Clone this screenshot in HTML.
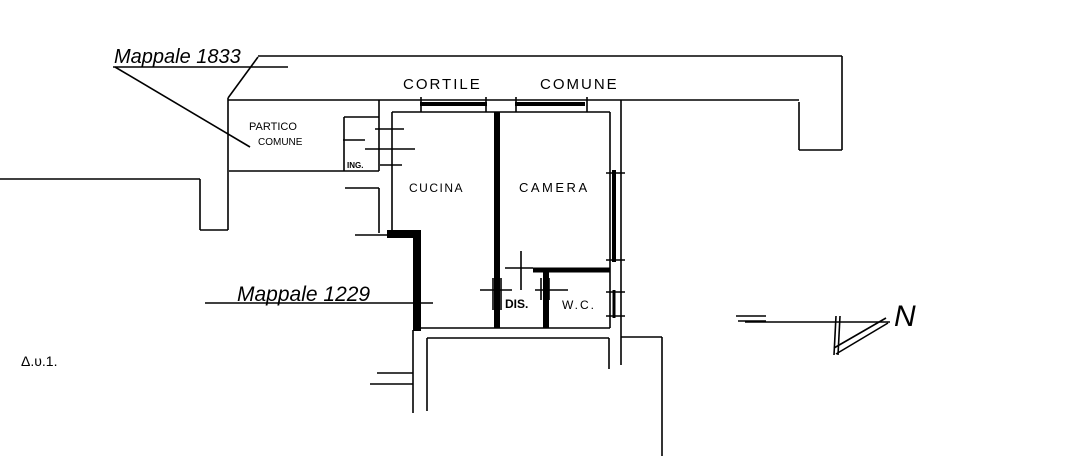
<!DOCTYPE html>
<html><head><meta charset="utf-8"><style>
html,body{margin:0;padding:0;background:#fff;}
svg{display:block}
text{font-family:"Liberation Sans",sans-serif;fill:#000}
</style></head><body>
<svg width="1068" height="456" viewBox="0 0 1068 456" xmlns="http://www.w3.org/2000/svg">
<g stroke="#000" fill="none" stroke-width="1.6">
<!-- Mappale 1833 -->
<line x1="113" y1="67" x2="288" y2="67"/>
<line x1="115" y1="67" x2="250" y2="147"/>
<line x1="258" y1="56" x2="842" y2="56"/>
<line x1="258" y1="57" x2="228" y2="98"/>
<line x1="842" y1="56" x2="842" y2="150"/>
<line x1="799" y1="150" x2="842" y2="150"/>
<line x1="799" y1="102" x2="799" y2="150"/>
<line x1="228" y1="100" x2="799" y2="100"/>
<!-- left -->
<line x1="0" y1="179" x2="200" y2="179"/>
<line x1="200" y1="179" x2="200" y2="230"/>
<line x1="200" y1="230" x2="228" y2="230"/>
<line x1="228" y1="98" x2="228" y2="230"/>
<!-- portico -->
<line x1="229" y1="171" x2="379" y2="171"/>
<line x1="379" y1="100" x2="379" y2="171"/>
<line x1="344" y1="117" x2="379" y2="117"/>
<line x1="344" y1="117" x2="344" y2="171"/>
<line x1="343" y1="140" x2="365" y2="140"/>
<line x1="375" y1="129" x2="404" y2="129"/>
<line x1="365" y1="149" x2="415" y2="149"/>
<line x1="380" y1="165" x2="402" y2="165"/>
<line x1="345" y1="188" x2="379" y2="188"/>
<line x1="379" y1="188" x2="379" y2="233"/>
<line x1="355" y1="235" x2="392" y2="235"/>
<!-- main walls -->
<line x1="392" y1="112" x2="392" y2="233"/>
<line x1="392" y1="112" x2="610" y2="112"/>
<line x1="610" y1="112" x2="610" y2="328"/>
<line x1="621" y1="100" x2="621" y2="365"/>
<line x1="417" y1="328" x2="610" y2="328"/>
<line x1="427" y1="338" x2="609" y2="338"/>
<line x1="609" y1="338" x2="609" y2="369"/>
<line x1="621" y1="337" x2="662" y2="337"/>
<line x1="662" y1="337" x2="662" y2="456"/>
<line x1="413" y1="330" x2="413" y2="413"/>
<line x1="427" y1="338" x2="427" y2="411"/>
<line x1="377" y1="373" x2="413" y2="373"/>
<line x1="370" y1="384" x2="413" y2="384"/>
<!-- Mappale 1229 -->
<line x1="205" y1="303" x2="433" y2="303"/>
<!-- tick marks windows -->
<line x1="421" y1="97" x2="421" y2="112"/><line x1="486" y1="97" x2="486" y2="112"/>
<line x1="516" y1="97" x2="516" y2="112"/><line x1="587" y1="97" x2="587" y2="112"/>
<line x1="606" y1="173" x2="625" y2="173"/><line x1="606" y1="260" x2="625" y2="260"/>
<line x1="606" y1="292" x2="625" y2="292"/><line x1="606" y1="316" x2="625" y2="316"/>
<!-- dis/wc details -->
<line x1="521" y1="251" x2="521" y2="290"/>
<line x1="505" y1="268" x2="533" y2="268"/>
<line x1="480" y1="290" x2="512" y2="290"/>
<line x1="535" y1="290" x2="568" y2="290"/>
<line x1="493" y1="278" x2="493" y2="310"/><line x1="501" y1="278" x2="501" y2="310"/>
<line x1="541" y1="278" x2="541" y2="300"/><line x1="549" y1="278" x2="549" y2="300"/>
<!-- north -->
<line x1="736" y1="316" x2="766" y2="316"/>
<line x1="738" y1="321" x2="766" y2="321"/>
<line x1="745" y1="322" x2="890" y2="322"/>
<line x1="836" y1="316" x2="834" y2="355"/>
<line x1="840" y1="316" x2="838" y2="355"/>
<line x1="834" y1="348" x2="886" y2="318"/>
<line x1="836" y1="354" x2="888" y2="323"/>
</g>
<g stroke="#000" fill="none">
<line x1="420" y1="104" x2="487" y2="104" stroke-width="4"/>
<line x1="515" y1="104" x2="585" y2="104" stroke-width="4"/>
<line x1="497" y1="112" x2="497" y2="328" stroke-width="6"/>
<path d="M387 234 H417 V331" stroke-width="8"/>
<line x1="495" y1="270" x2="500" y2="270" stroke-width="5"/>
<line x1="533" y1="270" x2="610" y2="270" stroke-width="5"/>
<line x1="546" y1="272" x2="546" y2="328" stroke-width="6"/>
<line x1="614" y1="170" x2="614" y2="262" stroke-width="4"/>
<line x1="614" y1="290" x2="614" y2="318" stroke-width="3"/>
</g>
<text x="114" y="63" font-size="20" font-style="italic">Mappale 1833</text>
<text x="237" y="301" font-size="21" font-style="italic">Mappale 1229</text>
<text x="249" y="130" font-size="11">PARTICO</text>
<text x="258" y="145" font-size="10">COMUNE</text>
<text x="347" y="168" font-size="8" font-weight="bold">ING.</text>
<text x="403" y="89" font-size="15" letter-spacing="2">CORTILE</text>
<text x="540" y="89" font-size="15" letter-spacing="2">COMUNE</text>
<text x="409" y="192" font-size="12" letter-spacing="1.5">CUCINA</text>
<text x="519" y="192" font-size="13" letter-spacing="2.5">CAMERA</text>
<text x="505" y="308" font-size="12" font-weight="bold">DIS.</text>
<text x="562" y="309" font-size="12" letter-spacing="2">W.C.</text>
<text x="894" y="326" font-size="30" font-style="italic">N</text>
<text x="21" y="366" font-size="14">Δ.υ.1.</text>
</svg>
</body></html>
